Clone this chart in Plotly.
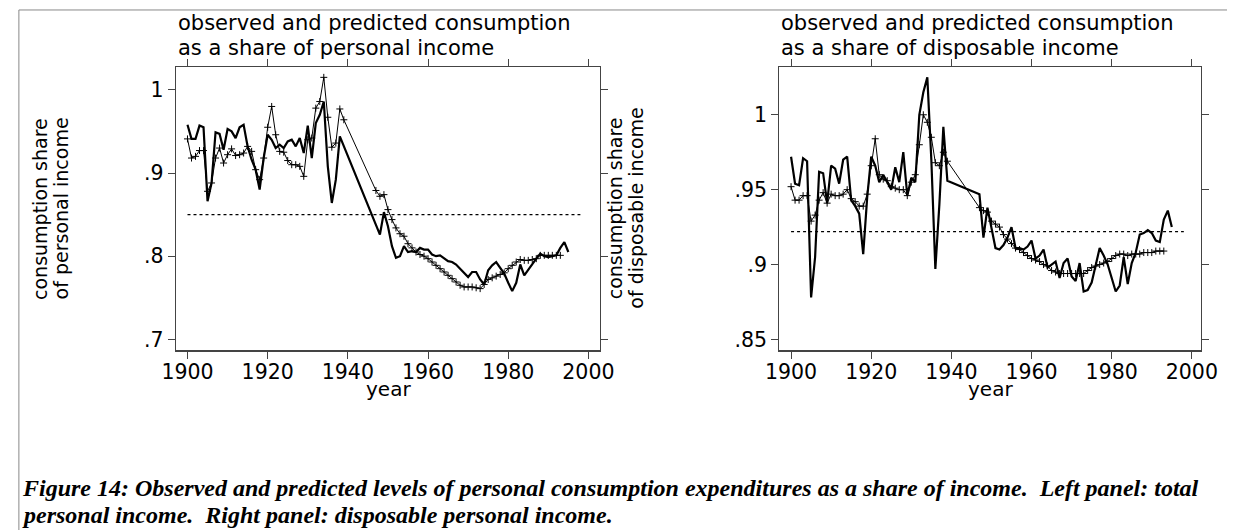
import plotly.graph_objects as go

W, H = 1244, 531

years = list(range(1900, 1996))

# observed consumption / personal income (None = war-year gap)
obs_pi = [0.958, 0.941, 0.941, 0.957, 0.955, 0.866, 0.888, 0.949, 0.947, 0.928,
          0.953, 0.950, 0.942, 0.955, 0.958, 0.932, 0.916, 0.904, 0.880, 0.918,
          0.946, 0.940, 0.930, 0.934, 0.930, 0.938, 0.940, 0.932, 0.942, 0.924,
          0.957, 0.918, 0.960, 0.970, 0.986, 0.908, 0.864, 0.892, 0.944, None,
          None, None, None, None, None, None, None, None, 0.826, 0.853,
          0.836, 0.812, 0.798, 0.800, 0.812, 0.805, 0.806, 0.805, 0.810, 0.808,
          0.808, 0.802, 0.800, 0.801, 0.797, 0.794, 0.793, 0.790, 0.785, 0.780,
          0.775, 0.781, 0.781, 0.772, 0.766, 0.783, 0.789, 0.793, 0.786, 0.779,
          0.768, 0.758, 0.768, 0.790, 0.777, 0.784, 0.790, 0.797, 0.803, 0.800,
          0.799, 0.800, 0.801, 0.810, 0.817, 0.805]

# predicted consumption / personal income
pred_pi = [0.941, 0.918, 0.920, 0.927, 0.927, 0.878, 0.888, 0.918, 0.930, 0.912,
           0.922, 0.929, 0.921, 0.922, 0.924, 0.932, 0.926, 0.904, 0.892, 0.918,
           0.955, 0.980, 0.946, 0.926, 0.925, 0.915, 0.910, 0.910, 0.908, 0.896,
           0.940, 0.942, 0.978, 0.986, 1.015, 0.967, 0.931, 0.936, 0.977, 0.964,
           None, None, None, None, None, None, None, 0.879, 0.872, 0.874,
           0.856, 0.844, 0.834, 0.827, 0.824, 0.815, 0.810, 0.805, 0.802, 0.800,
           0.797, 0.793, 0.789, 0.785, 0.781, 0.777, 0.773, 0.769, 0.765, 0.763,
           0.763, 0.763, 0.762, 0.761, 0.766, 0.772, 0.774, 0.776, 0.778, 0.780,
           0.785, 0.789, 0.793, 0.796, 0.795, 0.795, 0.796, 0.797, 0.801, 0.801,
           0.801, 0.801, 0.801, 0.801, None, None]

# observed consumption / disposable income
obs_di = [0.972, 0.954, 0.953, 0.971, 0.969, 0.878, 0.905, 0.962, 0.961, 0.941,
          0.966, 0.964, 0.954, 0.970, 0.972, 0.943, 0.939, 0.934, 0.907, 0.945,
          0.972, 0.966, 0.955, 0.960, 0.955, 0.950, 0.965, 0.955, 0.975, 0.946,
          0.958, 0.955, 1.000, 1.015, 1.025, 0.970, 0.897, 0.940, 0.992, 0.956,
          None, None, None, None, None, None, None, 0.947, 0.918, 0.938,
          0.925, 0.911, 0.910, 0.913, 0.918, 0.925, 0.911, 0.911, 0.910, 0.912,
          0.916, 0.904, 0.906, 0.910, 0.898, 0.900, 0.902, 0.891, 0.901, 0.904,
          0.892, 0.889, 0.901, 0.882, 0.883, 0.888, 0.900, 0.911, 0.906, 0.900,
          0.891, 0.882, 0.886, 0.905, 0.887, 0.901, 0.908, 0.920, 0.921, 0.923,
          0.921, 0.916, 0.915, 0.930, 0.936, 0.925]

# predicted consumption / disposable income
pred_di = [0.952, 0.943, 0.943, 0.946, 0.946, 0.929, 0.933, 0.943, 0.948, 0.941,
           0.947, 0.946, 0.946, 0.947, 0.950, 0.944, 0.942, 0.939, 0.939, 0.947,
           0.966, 0.984, 0.960, 0.957, 0.956, 0.952, 0.951, 0.950, 0.950, 0.946,
           0.955, 0.960, 0.980, 1.000, 0.995, 0.985, 0.968, 0.966, 0.975, 0.969,
           None, None, None, None, None, None, None, 0.938, 0.936, 0.935,
           0.929, 0.927, 0.925, 0.920, 0.917, 0.914, 0.911, 0.910, 0.908, 0.906,
           0.904, 0.903, 0.902, 0.900, 0.899, 0.896, 0.895, 0.894, 0.894, 0.894,
           0.894, 0.894, 0.894, 0.894, 0.896, 0.898, 0.899, 0.900, 0.901, 0.902,
           0.904, 0.906, 0.907, 0.907, 0.906, 0.907, 0.907, 0.907, 0.908, 0.908,
           0.908, 0.909, 0.909, 0.909, None, None]

mean_years = [1900, 1998]
mean_pi = [0.85, 0.85]
mean_di = [0.922, 0.922]

x_ticks = [1900, 1920, 1940, 1960, 1980, 2000]
y_ticks_pi = [0.7, 0.8, 0.9, 1.0]
y_text_pi = [".7", ".8", ".9", "1"]
y_ticks_di = [0.85, 0.9, 0.95, 1.0]
y_text_di = [".85", ".9", ".95", "1"]

title_pi = ["observed and predicted consumption", "as a share of personal income"]
title_di = ["observed and predicted consumption", "as a share of disposable income"]
ytitle_pi = ["consumption share", "of personal income"]
ytitle_di = ["consumption share", "of disposable income"]
caption = ["Figure 14: Observed and predicted levels of personal consumption expenditures as a share of income.\u00a0 Left panel: total",
           "personal income.\u00a0 Right panel: disposable personal income."]

def px(x):
    return x / W

def py(y):
    return 1 - y / H

fig = go.Figure()

for obs, pred, mean_v, xa, ya in [(obs_pi, pred_pi, mean_pi, "x", "y"),
                                  (obs_di, pred_di, mean_di, "x2", "y2")]:
    fig.add_trace(go.Scatter(x=mean_years, y=mean_v, mode="lines",
                             line=dict(color="black", width=1.3, dash="dot"),
                             xaxis=xa, yaxis=ya, showlegend=False, hoverinfo="skip"))
    fig.add_trace(go.Scatter(x=years, y=pred, mode="lines+markers", connectgaps=True,
                             line=dict(color="black", width=1),
                             marker=dict(symbol="cross-thin", size=5,
                                         line=dict(color="black", width=1)),
                             xaxis=xa, yaxis=ya, showlegend=False, hoverinfo="skip"))
    fig.add_trace(go.Scatter(x=years, y=obs, mode="lines", connectgaps=True,
                             line=dict(color="black", width=2.2),
                             xaxis=xa, yaxis=ya, showlegend=False, hoverinfo="skip"))

tick_font = dict(family="DejaVu Sans", size=20.5, color="black")
axis_common = dict(showline=True, linecolor="#444444", linewidth=1.2, mirror="ticks",
                   ticks="outside", ticklen=7, tickcolor="#444444", tickwidth=1,
                   showgrid=False, zeroline=False, tickfont=tick_font)

fig.update_layout(
    width=W, height=H, margin=dict(l=0, r=0, t=0, b=0),
    paper_bgcolor="white", plot_bgcolor="white",
    xaxis=dict(domain=[px(166), px(601)], range=[1897.1, 2002.9],
               tickvals=x_ticks, anchor="y", ticklabelstandoff=-4, **axis_common),
    yaxis=dict(domain=[py(351), py(67)], range=[0.6868, 1.0276],
               tickvals=y_ticks_pi, ticktext=y_text_pi, anchor="x", **axis_common),
    xaxis2=dict(domain=[px(785), px(1217)], range=[1897.1, 2002.2],
                tickvals=x_ticks, anchor="y2", ticklabelstandoff=-4, **axis_common),
    yaxis2=dict(domain=[py(351), py(67)], range=[0.8427, 1.032],
                tickvals=y_ticks_di, ticktext=y_text_di, anchor="x2", **axis_common),
)

title_font = dict(family="DejaVu Sans", size=21, color="black")
ann_font = dict(family="DejaVu Sans", size=19, color="black")
anns = []
for x0, lines in [(167, title_pi), (786, title_di)]:
    for i, t in enumerate(lines):
        anns.append(dict(x=px(x0), y=py(23.5 + 24.5 * i), xref="paper", yref="paper",
                         text=t, showarrow=False, xanchor="left", yanchor="middle",
                         font=title_font, borderpad=0))
for x0, lines in [(26, ytitle_pi), (616, ytitle_di)]:
    for i, t in enumerate(lines):
        anns.append(dict(x=px(x0 + 22 * i), y=py(209), xref="paper", yref="paper",
                         text=t, showarrow=False, textangle=-90, xanchor="center",
                         yanchor="middle", font=ann_font, borderpad=0))
for xc in [384, 1001]:
    anns.append(dict(x=px(xc), y=py(390), xref="paper", yref="paper", text="year",
                     showarrow=False, xanchor="center", yanchor="middle",
                     font=dict(family="DejaVu Sans", size=20, color="black"),
                     borderpad=0))
for i, t in enumerate(caption):
    anns.append(dict(x=px(7), y=py(489 + 27 * i), xref="paper", yref="paper",
                     text="<b><i>" + t + "</i></b>", showarrow=False,
                     xanchor="left", yanchor="middle", borderpad=0,
                     font=dict(family="Liberation Serif", size=24, color="black")))
fig.update_layout(annotations=anns)

fig.update_layout(shapes=[
    dict(type="line", xref="paper", yref="paper", x0=px(5), x1=1, y0=py(10), y1=py(10),
         line=dict(color="#888888", width=1)),
    dict(type="line", xref="paper", yref="paper", x0=px(5), x1=px(5), y0=py(10), y1=0,
         line=dict(color="#888888", width=1)),
])

fig.write_html("out.html", config={"displayModeBar": False, "staticPlot": True},
               post_script="document.body.style.margin='0';document.body.style.overflow='hidden';")
